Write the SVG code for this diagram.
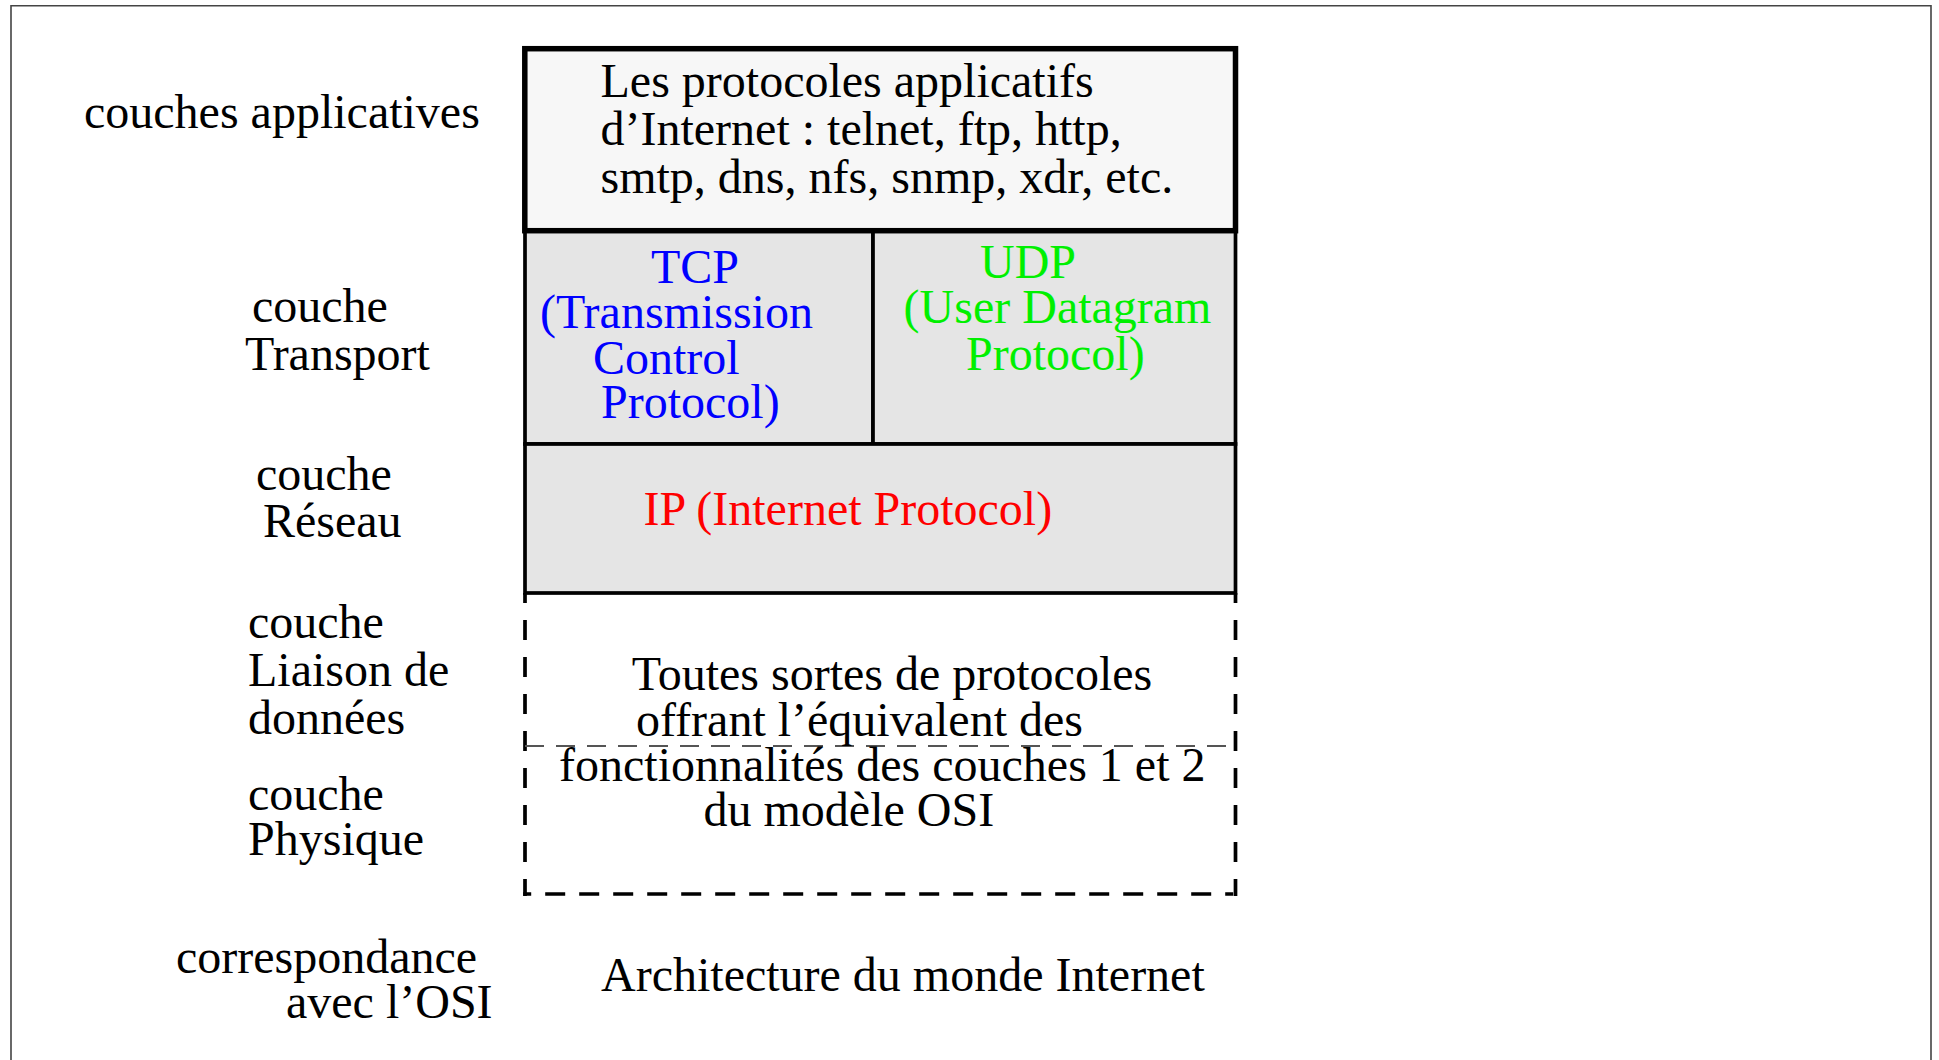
<svg xmlns="http://www.w3.org/2000/svg" width="1939" height="1060" viewBox="0 0 1939 1060">
<style>
text{font-family:"Liberation Serif","Times New Roman",serif;font-size:48px;fill:#000}
.tcp{fill:#0000ff}
.udp{fill:#00f000}
.ip{fill:#ff0000}
.cell{fill:#e5e5e5;stroke:#000;stroke-width:3.7}
.dash{fill:none;stroke:#000;stroke-width:3.7;stroke-dasharray:20 17}
</style>
<rect width="1939" height="1060" fill="#fff"/>
<path d="M11,1062 V5.7 H1931 V1062" fill="none" stroke="#444" stroke-width="1.6"/>

<g id="labels">
<text x="84" y="128">couches applicatives</text>
<text x="252" y="322">couche</text>
<text x="245" y="370">Transport</text>
<text x="256" y="490">couche</text>
<text x="263" y="537">Réseau</text>
<text x="248" y="638">couche</text>
<text x="248" y="686">Liaison de</text>
<text x="248" y="734">données</text>
<text x="248" y="810">couche</text>
<text x="248" y="855">Physique</text>
<text x="176" y="973">correspondance</text>
<text x="286" y="1018">avec l’OSI</text>
</g>

<g id="tcp">
<rect class="cell" x="525" y="230.7" width="348" height="213.3"/>
<text class="tcp" x="651" y="282.7">TCP</text>
<text class="tcp" x="540" y="328.3">(Transmission</text>
<text class="tcp" x="593" y="374">Control</text>
<text class="tcp" x="601" y="418.3">Protocol)</text>
</g>

<g id="udp">
<rect class="cell" x="873" y="230.7" width="362.5" height="213.3"/>
<text class="udp" x="980" y="277.7">UDP</text>
<text class="udp" x="903.6" y="323.3">(User Datagram</text>
<text class="udp" x="966" y="370">Protocol)</text>
</g>

<g id="ip">
<rect class="cell" x="525" y="444" width="710.5" height="149"/>
<text class="ip" x="643.4" y="525">IP (Internet Protocol)</text>
</g>

<g id="applications">
<rect x="524.8" y="48.7" width="710.7" height="182" fill="#f7f7f7" stroke="#000" stroke-width="5.5"/>
<text x="600.5" y="96.7">Les protocoles applicatifs</text>
<text x="600.5" y="145">d’Internet : telnet, ftp, http,</text>
<text x="600.5" y="193.3">smtp, dns, nfs, snmp, xdr, etc.</text>
</g>

<g id="lower-layers">
<line class="dash" x1="525" y1="593" x2="525" y2="896" stroke-dashoffset="10"/>
<line class="dash" x1="1235.5" y1="593" x2="1235.5" y2="896" stroke-dashoffset="10"/>
<line class="dash" x1="523.2" y1="894" x2="1237.3" y2="894" style="stroke-dasharray:8 14 20 14 20 14 20 14 20 14 20 14 20 14 20 14 20 14 20 14 20 14 20 14 20 14 20 14 20 14 20 14 20 14 20 14 20 14 20 14 20 14 8"/>
<line x1="525" y1="746" x2="1235.5" y2="746" stroke="#555" stroke-width="2.2" stroke-dasharray="19 12"/>
<text x="631.7" y="690">Toutes sortes de protocoles</text>
<text x="636" y="736">offrant l’équivalent des</text>
<text x="559" y="780.7">fonctionnalités des couches 1 et 2</text>
<text x="703.5" y="826">du modèle OSI</text>
</g>

<g id="caption">
<text x="601" y="991">Architecture du monde Internet</text>
</g>

<g id="connectors"/>
</svg>
